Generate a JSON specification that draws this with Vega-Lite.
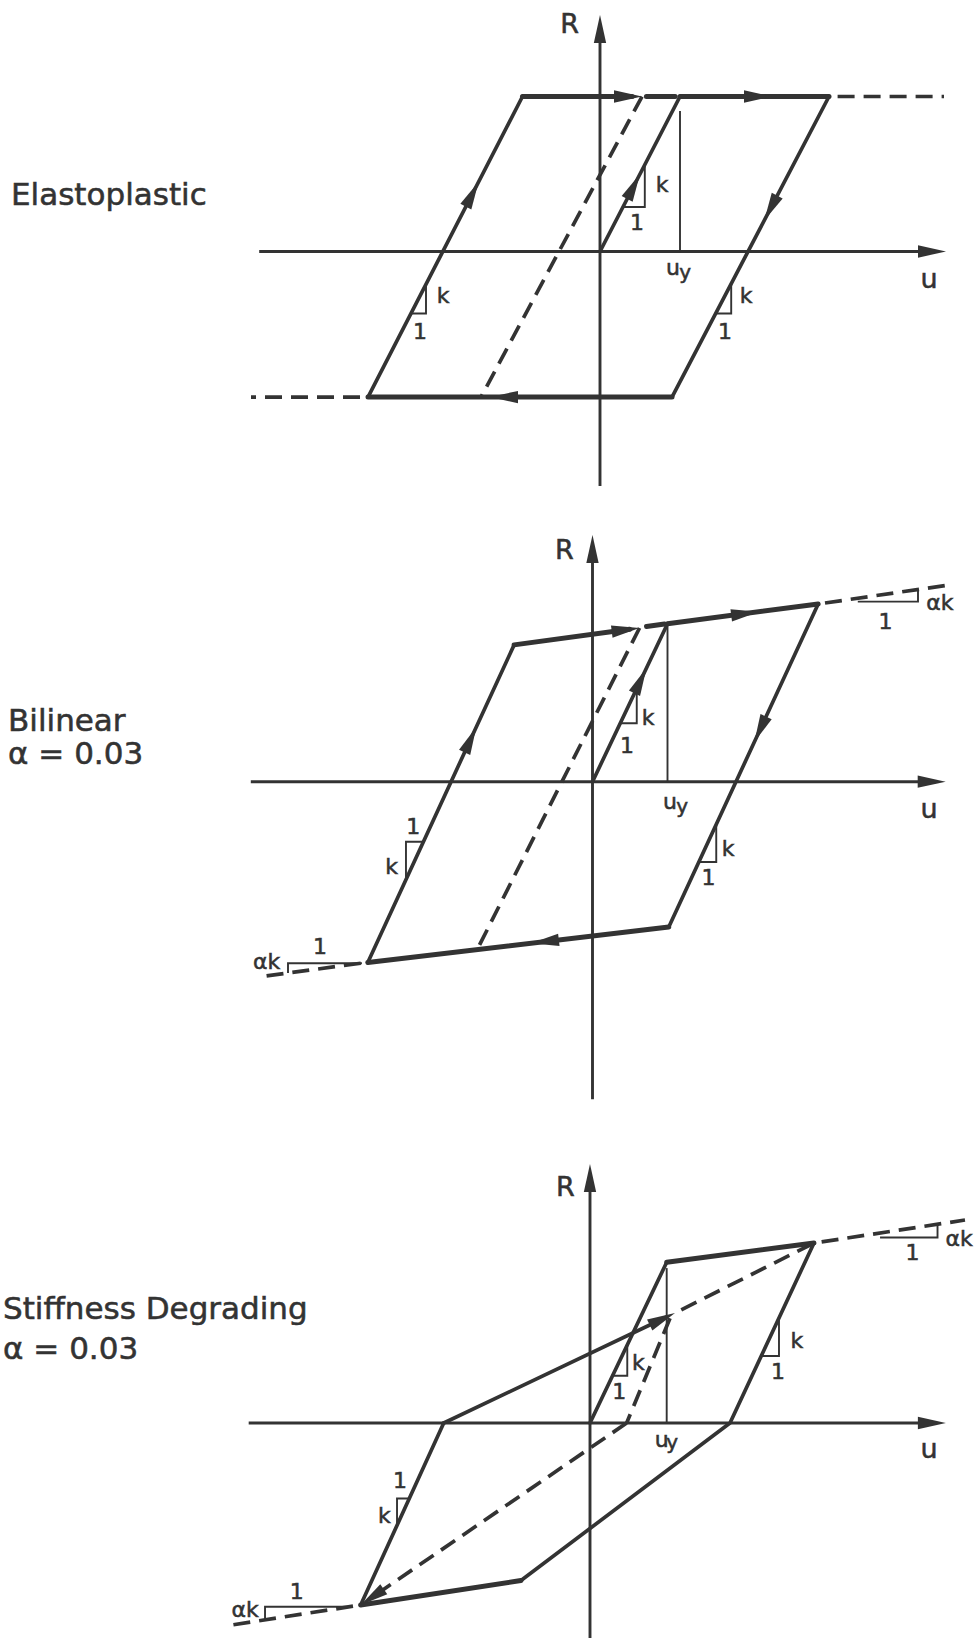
{
  "$schema": "https://vega.github.io/schema/vega-lite/v6.json",
  "padding": 0,
  "spacing": 0,
  "bounds": "flush",
  "background": "white",
  "config": {
    "view": {"stroke": null},
    "concat": {"spacing": 0},
    "text": {"font": "DejaVu Sans", "color": "#333333", "stroke": "#333333", "strokeWidth": 0.55},
    "line": {"color": "#333333"},
    "point": {"color": "#333333"}
  },
  "datasets": {
    "fig": [
      {"p":1,"k":"axis","s":"u1","i":0,"u":-4.26,"R":0},{"p":1,"k":"axis","s":"u1","i":1,"u":4.2,"R":0},
      {"p":1,"k":"axis","s":"r1","i":0,"u":0,"R":-1.513},{"p":1,"k":"axis","s":"r1","i":1,"u":0,"R":1.4},
      {"p":1,"k":"solid","s":"a","i":0,"u":0,"R":0},{"p":1,"k":"solid","s":"a","i":1,"u":1,"R":1},
      {"p":1,"k":"solid","s":"b","i":0,"u":2.8625,"R":1},{"p":1,"k":"solid","s":"b","i":1,"u":0.9,"R":-0.939},
      {"p":1,"k":"solid","s":"c","i":0,"u":-2.9,"R":-0.939},{"p":1,"k":"solid","s":"c","i":1,"u":-0.969,"R":1},
      {"p":1,"k":"heavy","s":"d","i":0,"u":1,"R":1},{"p":1,"k":"heavy","s":"d","i":1,"u":2.8625,"R":1},
      {"p":1,"k":"heavy","s":"e","i":0,"u":0.9,"R":-0.939},{"p":1,"k":"heavy","s":"e","i":1,"u":-2.9,"R":-0.939},
      {"p":1,"k":"heavy","s":"f","i":0,"u":-0.969,"R":1},{"p":1,"k":"heavy","s":"f","i":1,"u":0.4,"R":1},
      {"p":1,"k":"heavy","s":"g","i":0,"u":0.58,"R":1},{"p":1,"k":"heavy","s":"g","i":1,"u":0.94,"R":1},
      {"p":1,"k":"dash","s":"h","i":0,"u":2.97,"R":1},{"p":1,"k":"dash","s":"h","i":1,"u":4.3,"R":1},
      {"p":1,"k":"dash","s":"j","i":0,"u":-3.0,"R":-0.939},{"p":1,"k":"dash","s":"j","i":1,"u":-4.3625,"R":-0.939},
      {"p":1,"k":"dash","s":"m","i":0,"u":0.525,"R":1},{"p":1,"k":"dash","s":"m","i":1,"u":-1.4875,"R":-0.939},
      {"p":1,"k":"thin","s":"n","i":0,"u":1,"R":0},{"p":1,"k":"thin","s":"n","i":1,"u":1,"R":0.9},
      {"p":1,"k":"thin","s":"o","i":0,"u":0.287,"R":0.287},{"p":1,"k":"thin","s":"o","i":1,"u":0.56,"R":0.287},{"p":1,"k":"thin","s":"o","i":2,"u":0.56,"R":0.56},
      {"p":1,"k":"thin","s":"q","i":0,"u":-2.363,"R":-0.4},{"p":1,"k":"thin","s":"q","i":1,"u":-2.175,"R":-0.4},{"p":1,"k":"thin","s":"q","i":2,"u":-2.175,"R":-0.211},
      {"p":1,"k":"thin","s":"r","i":0,"u":1.446,"R":-0.4},{"p":1,"k":"thin","s":"r","i":1,"u":1.64,"R":-0.4},{"p":1,"k":"thin","s":"r","i":2,"u":1.64,"R":-0.208},
      {"p":1,"k":"arrow","u":0,"R":1.526,"h":0},{"p":1,"k":"arrow","u":4.325,"R":0,"h":90},
      {"p":1,"k":"arrow","u":0.5,"R":0.5,"h":27.3},{"p":1,"k":"arrow","u":2.15,"R":1,"h":90},
      {"p":1,"k":"arrow","u":2.053,"R":0.2,"h":207.6},{"p":1,"k":"arrow","u":-1.375,"R":-0.939,"h":270},
      {"p":1,"k":"arrow","u":-1.517,"R":0.45,"h":27.2},{"p":1,"k":"arrow","u":0.525,"R":1,"h":90},
      {"p":1,"k":"title","t":"Elastoplastic","u":-7.3625,"R":0.358},
      {"p":1,"k":"axislabel","t":"R","u":-0.38,"R":1.464},{"p":1,"k":"axislabel","t":"u","u":4.1125,"R":-0.184},
      {"p":1,"k":"note","t":"k","u":0.775,"R":0.429},{"p":1,"k":"note","t":"1","u":0.4625,"R":0.184},
      {"p":1,"k":"note","t":"k","u":-1.9625,"R":-0.287},{"p":1,"k":"note","t":"1","u":-2.25,"R":-0.519},
      {"p":1,"k":"note","t":"k","u":1.825,"R":-0.287},{"p":1,"k":"note","t":"1","u":1.5625,"R":-0.519},
      {"p":1,"k":"note","t":"u","u":0.9125,"R":-0.106},{"p":1,"k":"sub","t":"y","u":1.065,"R":-0.139},

      {"p":2,"k":"axis","s":"u2","i":0,"u":-4.556,"R":0},{"p":2,"k":"axis","s":"u2","i":1,"u":4.58,"R":0},
      {"p":2,"k":"axis","s":"r2","i":0,"u":0,"R":-2.01},{"p":2,"k":"axis","s":"r2","i":1,"u":0,"R":1.44},
      {"p":2,"k":"solid","s":"a","i":0,"u":0,"R":0},{"p":2,"k":"solid","s":"a","i":1,"u":1,"R":1},
      {"p":2,"k":"solid","s":"b","i":0,"u":3.009,"R":1.125},{"p":2,"k":"solid","s":"b","i":1,"u":1.017,"R":-0.92},
      {"p":2,"k":"solid","s":"c","i":0,"u":-2.996,"R":-1.144},{"p":2,"k":"solid","s":"c","i":1,"u":-1.045,"R":0.866},
      {"p":2,"k":"heavy","s":"d","i":0,"u":1,"R":1},{"p":2,"k":"heavy","s":"d","i":1,"u":3.009,"R":1.125},
      {"p":2,"k":"heavy","s":"e","i":0,"u":1.017,"R":-0.92},{"p":2,"k":"heavy","s":"e","i":1,"u":-2.996,"R":-1.144},
      {"p":2,"k":"heavy","s":"f","i":0,"u":-1.045,"R":0.866},{"p":2,"k":"heavy","s":"f","i":1,"u":0.494,"R":0.9645},
      {"p":2,"k":"heavy","s":"g","i":0,"u":0.72,"R":0.9826},{"p":2,"k":"heavy","s":"g","i":1,"u":0.96,"R":0.9975},
      {"p":2,"k":"dash","s":"h","i":0,"u":3.1,"R":1.131},{"p":2,"k":"dash","s":"h","i":1,"u":4.753,"R":1.245},
      {"p":2,"k":"dash","s":"j","i":0,"u":-3.09,"R":-1.149},{"p":2,"k":"dash","s":"j","i":1,"u":-4.46,"R":-1.236},
      {"p":2,"k":"dash","s":"m","i":0,"u":0.627,"R":0.973},{"p":2,"k":"dash","s":"m","i":1,"u":-1.519,"R":-1.045},
      {"p":2,"k":"thin","s":"n","i":0,"u":1,"R":0},{"p":2,"k":"thin","s":"n","i":1,"u":1,"R":0.979},
      {"p":2,"k":"thin","s":"o","i":0,"u":0.37,"R":0.37},{"p":2,"k":"thin","s":"o","i":1,"u":0.59,"R":0.37},{"p":2,"k":"thin","s":"o","i":2,"u":0.59,"R":0.59},
      {"p":2,"k":"thin","s":"q","i":0,"u":-2.254,"R":-0.38},{"p":2,"k":"thin","s":"q","i":1,"u":-2.487,"R":-0.38},{"p":2,"k":"thin","s":"q","i":2,"u":-2.487,"R":-0.601},
      {"p":2,"k":"thin","s":"r","i":0,"u":1.418,"R":-0.508},{"p":2,"k":"thin","s":"r","i":1,"u":1.65,"R":-0.508},{"p":2,"k":"thin","s":"r","i":2,"u":1.65,"R":-0.27},
      {"p":2,"k":"thin","s":"s","i":0,"u":3.55,"R":1.14},{"p":2,"k":"thin","s":"s","i":1,"u":4.34,"R":1.14},{"p":2,"k":"thin","s":"s","i":2,"u":4.34,"R":1.207},
      {"p":2,"k":"thin","s":"t","i":0,"u":-3.087,"R":-1.149},{"p":2,"k":"thin","s":"t","i":1,"u":-4.06,"R":-1.149},{"p":2,"k":"thin","s":"t","i":2,"u":-4.06,"R":-1.204},
      {"p":2,"k":"arrow","u":0,"R":1.561,"h":0},{"p":2,"k":"arrow","u":4.709,"R":0,"h":90},
      {"p":2,"k":"arrow","u":0.72,"R":0.72,"h":25.4},{"p":2,"k":"arrow","u":2.22,"R":1.076,"h":82.6},
      {"p":2,"k":"arrow","u":2.158,"R":0.2513,"h":204.8},{"p":2,"k":"arrow","u":-0.82,"R":-1.022,"h":263.3},
      {"p":2,"k":"arrow","u":-1.549,"R":0.3463,"h":24.7},{"p":2,"k":"arrow","u":0.627,"R":0.973,"h":82.6},
      {"p":2,"k":"title","t":"Bilinear","u":-7.793,"R":0.378},{"p":2,"k":"title","t":"α = 0.03","u":-7.793,"R":0.166},
      {"p":2,"k":"axislabel","t":"R","u":-0.376,"R":1.462},{"p":2,"k":"axislabel","t":"u","u":4.487,"R":-0.178},
      {"p":2,"k":"note","t":"k","u":0.74,"R":0.402},{"p":2,"k":"note","t":"1","u":0.46,"R":0.226},
      {"p":2,"k":"note","t":"1","u":-2.389,"R":-0.285},{"p":2,"k":"note","t":"k","u":-2.677,"R":-0.538},
      {"p":2,"k":"note","t":"k","u":1.807,"R":-0.423},{"p":2,"k":"note","t":"1","u":1.547,"R":-0.608},
      {"p":2,"k":"note","t":"αk","u":4.633,"R":1.131},{"p":2,"k":"note","t":"1","u":3.907,"R":1.013},
      {"p":2,"k":"note","t":"αk","u":-4.344,"R":-1.139},{"p":2,"k":"note","t":"1","u":-3.633,"R":-1.044},
      {"p":2,"k":"note","t":"u","u":1.033,"R":-0.128},{"p":2,"k":"sub","t":"y","u":1.195,"R":-0.16},

      {"p":3,"k":"axis","s":"u3","i":0,"u":-4.45,"R":0},{"p":3,"k":"axis","s":"u3","i":1,"u":4.5,"R":0},
      {"p":3,"k":"axis","s":"r3","i":0,"u":0,"R":-1.338},{"p":3,"k":"axis","s":"r3","i":1,"u":0,"R":1.48},
      {"p":3,"k":"solid","s":"a","i":0,"u":0,"R":0},{"p":3,"k":"solid","s":"a","i":1,"u":1,"R":1},
      {"p":3,"k":"solid","s":"b","i":0,"u":2.92,"R":1.12},{"p":3,"k":"solid","s":"b","i":1,"u":1.825,"R":0},{"p":3,"k":"solid","s":"b","i":2,"u":-0.9,"R":-0.98},
      {"p":3,"k":"solid","s":"c","i":0,"u":-2.99,"R":-1.133},{"p":3,"k":"solid","s":"c","i":1,"u":-1.907,"R":0},
      {"p":3,"k":"solid","s":"w","i":0,"u":-1.907,"R":0},{"p":3,"k":"solid","s":"w","i":1,"u":0.991,"R":0.658},
      {"p":3,"k":"heavy","s":"d","i":0,"u":1,"R":1},{"p":3,"k":"heavy","s":"d","i":1,"u":2.92,"R":1.12},
      {"p":3,"k":"heavy","s":"e","i":0,"u":-0.9,"R":-0.98},{"p":3,"k":"heavy","s":"e","i":1,"u":-2.99,"R":-1.133},
      {"p":3,"k":"dash","s":"h","i":0,"u":1.19,"R":0.704},{"p":3,"k":"dash","s":"h","i":1,"u":2.92,"R":1.12},
      {"p":3,"k":"dash","s":"m","i":0,"u":1.043,"R":0.652},{"p":3,"k":"dash","s":"m","i":1,"u":0.478,"R":0},
      {"p":3,"k":"dash","s":"x","i":0,"u":0.478,"R":0},{"p":3,"k":"dash","s":"x","i":1,"u":-2.882,"R":-1.098},
      {"p":3,"k":"dash","s":"j","i":0,"u":3.02,"R":1.127},{"p":3,"k":"dash","s":"j","i":1,"u":4.889,"R":1.263},
      {"p":3,"k":"dash","s":"y","i":0,"u":-3.09,"R":-1.14},{"p":3,"k":"dash","s":"y","i":1,"u":-4.671,"R":-1.257},
      {"p":3,"k":"thin","s":"n","i":0,"u":1,"R":0},{"p":3,"k":"thin","s":"n","i":1,"u":1,"R":0.958},
      {"p":3,"k":"thin","s":"o","i":0,"u":0.294,"R":0.294},{"p":3,"k":"thin","s":"o","i":1,"u":0.486,"R":0.294},{"p":3,"k":"thin","s":"o","i":2,"u":0.486,"R":0.486},
      {"p":3,"k":"thin","s":"r","i":0,"u":2.233,"R":0.417},{"p":3,"k":"thin","s":"r","i":1,"u":2.464,"R":0.417},{"p":3,"k":"thin","s":"r","i":2,"u":2.464,"R":0.6536},
      {"p":3,"k":"thin","s":"q","i":0,"u":-2.356,"R":-0.47},{"p":3,"k":"thin","s":"q","i":1,"u":-2.516,"R":-0.47},{"p":3,"k":"thin","s":"q","i":2,"u":-2.516,"R":-0.638},
      {"p":3,"k":"thin","s":"s","i":0,"u":3.794,"R":1.154},{"p":3,"k":"thin","s":"s","i":1,"u":4.531,"R":1.154},{"p":3,"k":"thin","s":"s","i":2,"u":4.531,"R":1.237},
      {"p":3,"k":"thin","s":"t","i":0,"u":-3.151,"R":-1.143},{"p":3,"k":"thin","s":"t","i":1,"u":-4.237,"R":-1.143},{"p":3,"k":"thin","s":"t","i":2,"u":-4.237,"R":-1.215},
      {"p":3,"k":"arrow","u":0,"R":1.612,"h":0},{"p":3,"k":"arrow","u":4.64,"R":0,"h":90},
      {"p":3,"k":"arrow","u":1.108,"R":0.6845,"h":64.5},{"p":3,"k":"arrow","u":-2.99,"R":-1.133,"h":235.6},
      {"p":3,"k":"title","t":"Stiffness Degrading","u":-7.653,"R":0.703},{"p":3,"k":"title","t":"α = 0.03","u":-7.653,"R":0.454},
      {"p":3,"k":"axislabel","t":"R","u":-0.32,"R":1.462},{"p":3,"k":"axislabel","t":"u","u":4.42,"R":-0.171},
      {"p":3,"k":"note","t":"k","u":0.63,"R":0.372},{"p":3,"k":"note","t":"1","u":0.382,"R":0.194},
      {"p":3,"k":"note","t":"k","u":2.698,"R":0.513},{"p":3,"k":"note","t":"1","u":2.451,"R":0.32},
      {"p":3,"k":"note","t":"1","u":-2.477,"R":-0.363},{"p":3,"k":"note","t":"k","u":-2.681,"R":-0.577},
      {"p":3,"k":"note","t":"αk","u":4.811,"R":1.145},{"p":3,"k":"note","t":"1","u":4.205,"R":1.058},
      {"p":3,"k":"note","t":"αk","u":-4.498,"R":-1.164},{"p":3,"k":"note","t":"1","u":-3.824,"R":-1.05},
      {"p":3,"k":"note","t":"u","u":0.934,"R":-0.106},{"p":3,"k":"sub","t":"y","u":1.07,"R":-0.126}
    ]
  },
  "vconcat": [
    {
      "width": 975, "height": 515,
      "data": {"name": "fig"},
      "transform": [{"filter": "datum.p === 1"}],
      "encoding": {
        "x": {"field": "u", "type": "quantitative", "scale": {"domain": [-7.5, 4.6875], "nice": false, "zero": false}, "axis": null},
        "y": {"field": "R", "type": "quantitative", "scale": {"domain": [-1.7, 1.6226], "nice": false, "zero": false}, "axis": null}
      },
      "layer": [
        {"transform": [{"filter": "datum.k === 'axis'"}], "mark": {"type": "line", "strokeWidth": 2.9, "strokeCap": "butt"}, "encoding": {"detail": {"field": "s"}, "order": {"field": "i"}}},
        {"transform": [{"filter": "datum.k === 'thin'"}], "mark": {"type": "line", "strokeWidth": 1.9, "strokeCap": "square"}, "encoding": {"detail": {"field": "s"}, "order": {"field": "i"}}},
        {"transform": [{"filter": "datum.k === 'dash'"}], "mark": {"type": "line", "strokeWidth": 3.7, "strokeDash": [17, 9], "strokeCap": "butt"}, "encoding": {"detail": {"field": "s"}, "order": {"field": "i"}}},
        {"transform": [{"filter": "datum.k === 'solid'"}], "mark": {"type": "line", "strokeWidth": 3.7, "strokeCap": "round", "strokeJoin": "miter"}, "encoding": {"detail": {"field": "s"}, "order": {"field": "i"}}},
        {"transform": [{"filter": "datum.k === 'heavy'"}], "mark": {"type": "line", "strokeWidth": 5, "strokeCap": "round"}, "encoding": {"detail": {"field": "s"}, "order": {"field": "i"}}},
        {"transform": [{"filter": "datum.k === 'arrow'"}], "mark": {"type": "point", "shape": "M0,0L0.22,1L-0.22,1Z", "filled": true, "size": 3136, "opacity": 1}, "encoding": {"angle": {"field": "h", "type": "quantitative", "scale": null}}},
        {"transform": [{"filter": "datum.k === 'title'"}], "mark": {"type": "text", "align": "left", "baseline": "middle", "fontSize": 31}, "encoding": {"text": {"field": "t"}}},
        {"transform": [{"filter": "datum.k === 'axislabel'"}], "mark": {"type": "text", "align": "center", "baseline": "middle", "fontSize": 27}, "encoding": {"text": {"field": "t"}}},
        {"transform": [{"filter": "datum.k === 'note'"}], "mark": {"type": "text", "align": "center", "baseline": "middle", "fontSize": 22}, "encoding": {"text": {"field": "t"}}},
        {"transform": [{"filter": "datum.k === 'sub'"}], "mark": {"type": "text", "align": "center", "baseline": "middle", "fontSize": 20}, "encoding": {"text": {"field": "t"}}}
      ]
    },
    {
      "width": 975, "height": 605,
      "data": {"name": "fig"},
      "transform": [{"filter": "datum.p === 2"}],
      "encoding": {
        "x": {"field": "u", "type": "quantitative", "scale": {"domain": [-7.9, 5.1], "nice": false, "zero": false}, "axis": null},
        "y": {"field": "R", "type": "quantitative", "scale": {"domain": [-2.141, 1.688], "nice": false, "zero": false}, "axis": null}
      },
      "layer": [
        {"transform": [{"filter": "datum.k === 'axis'"}], "mark": {"type": "line", "strokeWidth": 2.9, "strokeCap": "butt"}, "encoding": {"detail": {"field": "s"}, "order": {"field": "i"}}},
        {"transform": [{"filter": "datum.k === 'thin'"}], "mark": {"type": "line", "strokeWidth": 1.9, "strokeCap": "square"}, "encoding": {"detail": {"field": "s"}, "order": {"field": "i"}}},
        {"transform": [{"filter": "datum.k === 'dash'"}], "mark": {"type": "line", "strokeWidth": 3.7, "strokeDash": [17, 9], "strokeCap": "butt"}, "encoding": {"detail": {"field": "s"}, "order": {"field": "i"}}},
        {"transform": [{"filter": "datum.k === 'solid'"}], "mark": {"type": "line", "strokeWidth": 3.7, "strokeCap": "round", "strokeJoin": "miter"}, "encoding": {"detail": {"field": "s"}, "order": {"field": "i"}}},
        {"transform": [{"filter": "datum.k === 'heavy'"}], "mark": {"type": "line", "strokeWidth": 5, "strokeCap": "round"}, "encoding": {"detail": {"field": "s"}, "order": {"field": "i"}}},
        {"transform": [{"filter": "datum.k === 'arrow'"}], "mark": {"type": "point", "shape": "M0,0L0.22,1L-0.22,1Z", "filled": true, "size": 3136, "opacity": 1}, "encoding": {"angle": {"field": "h", "type": "quantitative", "scale": null}}},
        {"transform": [{"filter": "datum.k === 'title'"}], "mark": {"type": "text", "align": "left", "baseline": "middle", "fontSize": 31}, "encoding": {"text": {"field": "t"}}},
        {"transform": [{"filter": "datum.k === 'axislabel'"}], "mark": {"type": "text", "align": "center", "baseline": "middle", "fontSize": 27}, "encoding": {"text": {"field": "t"}}},
        {"transform": [{"filter": "datum.k === 'note'"}], "mark": {"type": "text", "align": "center", "baseline": "middle", "fontSize": 22}, "encoding": {"text": {"field": "t"}}},
        {"transform": [{"filter": "datum.k === 'sub'"}], "mark": {"type": "text", "align": "center", "baseline": "middle", "fontSize": 20}, "encoding": {"text": {"field": "t"}}}
      ]
    },
    {
      "width": 975, "height": 518,
      "data": {"name": "fig"},
      "transform": [{"filter": "datum.p === 3"}],
      "encoding": {
        "x": {"field": "u", "type": "quantitative", "scale": {"domain": [-7.6923, 5.0196], "nice": false, "zero": false}, "axis": null},
        "y": {"field": "R", "type": "quantitative", "scale": {"domain": [-1.3379, 1.8855], "nice": false, "zero": false}, "axis": null}
      },
      "layer": [
        {"transform": [{"filter": "datum.k === 'axis'"}], "mark": {"type": "line", "strokeWidth": 2.9, "strokeCap": "butt"}, "encoding": {"detail": {"field": "s"}, "order": {"field": "i"}}},
        {"transform": [{"filter": "datum.k === 'thin'"}], "mark": {"type": "line", "strokeWidth": 1.9, "strokeCap": "square"}, "encoding": {"detail": {"field": "s"}, "order": {"field": "i"}}},
        {"transform": [{"filter": "datum.k === 'dash'"}], "mark": {"type": "line", "strokeWidth": 3.7, "strokeDash": [17, 9], "strokeCap": "butt"}, "encoding": {"detail": {"field": "s"}, "order": {"field": "i"}}},
        {"transform": [{"filter": "datum.k === 'solid'"}], "mark": {"type": "line", "strokeWidth": 3.7, "strokeCap": "round", "strokeJoin": "miter"}, "encoding": {"detail": {"field": "s"}, "order": {"field": "i"}}},
        {"transform": [{"filter": "datum.k === 'heavy'"}], "mark": {"type": "line", "strokeWidth": 5, "strokeCap": "round"}, "encoding": {"detail": {"field": "s"}, "order": {"field": "i"}}},
        {"transform": [{"filter": "datum.k === 'arrow'"}], "mark": {"type": "point", "shape": "M0,0L0.22,1L-0.22,1Z", "filled": true, "size": 3136, "opacity": 1}, "encoding": {"angle": {"field": "h", "type": "quantitative", "scale": null}}},
        {"transform": [{"filter": "datum.k === 'title'"}], "mark": {"type": "text", "align": "left", "baseline": "middle", "fontSize": 31}, "encoding": {"text": {"field": "t"}}},
        {"transform": [{"filter": "datum.k === 'axislabel'"}], "mark": {"type": "text", "align": "center", "baseline": "middle", "fontSize": 27}, "encoding": {"text": {"field": "t"}}},
        {"transform": [{"filter": "datum.k === 'note'"}], "mark": {"type": "text", "align": "center", "baseline": "middle", "fontSize": 22}, "encoding": {"text": {"field": "t"}}},
        {"transform": [{"filter": "datum.k === 'sub'"}], "mark": {"type": "text", "align": "center", "baseline": "middle", "fontSize": 20}, "encoding": {"text": {"field": "t"}}}
      ]
    }
  ]
}
